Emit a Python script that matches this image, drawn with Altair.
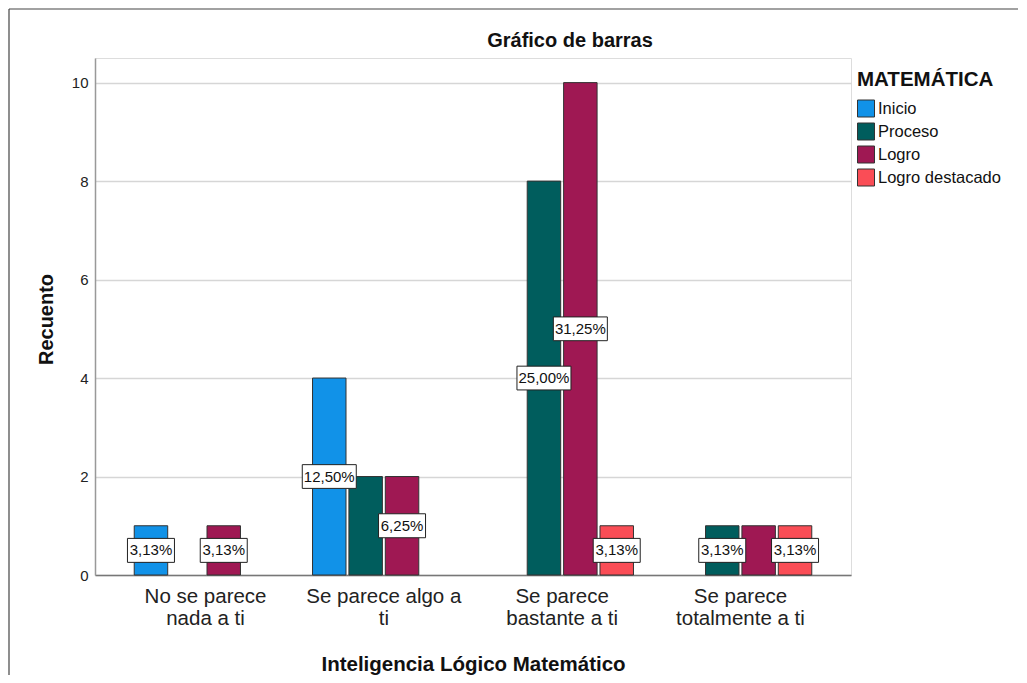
import math
import altair as alt
import pandas as pd

# ---- data ----
categories = ["No se parece\nnada a ti", "Se parece algo a\nti", "Se parece\nbastante a ti", "Se parece\ntotalmente a ti"]
series = ["Inicio", "Proceso", "Logro", "Logro destacado"]
colors = ["#1192e8", "#005d5d", "#9f1853", "#fa4d56"]

inicio = [1, 4, 0, 0]
proceso = [0, 2, 8, 1]
logro = [1, 2, 10, 1]
destacado = [0, 0, 1, 1]

label_inicio = [True, True, False, False]
label_proceso = [False, False, True, True]
label_logro = [True, True, True, False]
label_destacado = [False, False, True, True]

y_ticks = [0, 2, 4, 6, 8, 10]
chart_title = "Gráfico de barras"

FONT = "Liberation Sans"

values = [inicio, proceso, logro, destacado]
shows = [label_inicio, label_proceso, label_logro, label_destacado]
total = sum(sum(v) for v in values)


def pct(v):
    x = math.floor(v * 10000 / total + 0.5) / 100
    return f"{x:.2f}".replace(".", ",") + "%"


rows = []
for s, vals, sh in zip(series, values, shows):
    for c, v, show in zip(categories, vals, sh):
        if v > 0:
            rows.append({"cat": c, "serie": s, "count": v, "show": bool(show), "label": pct(v)})
df = pd.DataFrame(rows)

x_enc = alt.X(
    "cat:N",
    sort=categories,
    scale=alt.Scale(domain=categories, paddingInner=0.2, paddingOuter=0.22),
    axis=alt.Axis(
        title="Inteligencia Lógico Matemático",
        labelAngle=0,
        ticks=False,
        labelPadding=11,
        labelFontSize=20.5,
        labelLineHeight=22.5,
        labelFont=FONT,
        labelColor="#222222",
        labelExpr="split(datum.label, '\\n')",
        titleFont=FONT,
        titleFontSize=20.5,
        titleFontWeight="bold",
        titleColor="#111111",
        titleY=95,
        titleBaseline="alphabetic",
        domainColor="#777777",
        domainWidth=1.5,
        grid=False,
    ),
)
xoff_enc = alt.XOffset("serie:N", sort=series, scale=alt.Scale(domain=series, paddingInner=0.08))
y_scale = alt.Scale(domain=[0, 10.5], nice=False)

base = alt.Chart(df)

bars = base.mark_bar(stroke="#333333", strokeWidth=1).encode(
    x=x_enc,
    xOffset=xoff_enc,
    y=alt.Y(
        "count:Q",
        scale=y_scale,
        axis=alt.Axis(
            title="Recuento",
            values=y_ticks,
            format="d",
            ticks=False,
            labelPadding=7,
            labelFontSize=15,
            labelFont=FONT,
            labelColor="#222222",
            domainColor="#999999",
            domainWidth=1.5,
            gridColor="#d6d6d6",
            gridWidth=1.5,
            titleFont=FONT,
            titleFontSize=20,
            titleFontWeight="bold",
            titleColor="#111111",
            titleAngle=-90,
            titleX=-43,
            titleY=261,
            titleAlign="center",
            titleBaseline="alphabetic",
        ),
    ),
    color=alt.Color(
        "serie:N",
        sort=series,
        scale=alt.Scale(domain=series, range=colors),
        legend=alt.Legend(
            title="MATEMÁTICA",
            orient="none",
            legendX=762,
            legendY=12,
            padding=0,
            symbolType="square",
            symbolSize=289,
            symbolStrokeColor="#333333",
            symbolStrokeWidth=1,
            titleFont=FONT,
            titleFontSize=20.5,
            titleFontWeight="bold",
            titleColor="#111111",
            titlePadding=9,
            labelFont=FONT,
            labelFontSize=16.5,
            labelColor="#111111",
            labelOffset=3,
            rowPadding=1,
        ),
    ),
)

lab = base.transform_filter("datum.show").transform_calculate(
    mid="datum.count / 2", n="length(datum.label)"
)

box5 = lab.transform_filter("datum.n == 5").mark_point(
    shape="M-1,-0.51L1,-0.51L1,0.51L-1,0.51Z", size=47 * 47, filled=True,
    fill="white", stroke="#222222", strokeWidth=1, opacity=1,
).encode(x=alt.X("cat:N", sort=categories), xOffset=alt.XOffset("serie:N", sort=series), y=alt.Y("mid:Q", scale=y_scale))

box6 = lab.transform_filter("datum.n == 6").mark_point(
    shape="M-1,-0.44L1,-0.44L1,0.44L-1,0.44Z", size=54 * 54, filled=True,
    fill="white", stroke="#222222", strokeWidth=1, opacity=1,
).encode(x=alt.X("cat:N", sort=categories), xOffset=alt.XOffset("serie:N", sort=series), y=alt.Y("mid:Q", scale=y_scale))

texts = lab.mark_text(font=FONT, fontSize=15, color="#111111", baseline="middle", align="center").encode(
    x=alt.X("cat:N", sort=categories), xOffset=alt.XOffset("serie:N", sort=series),
    y=alt.Y("mid:Q", scale=y_scale), text="label:N",
)

deco_df = pd.DataFrame({"k": [0]})
frame_top = alt.Chart(deco_df).mark_rule(color="#444444", strokeWidth=1.2).encode(
    x=alt.value(-86), x2=alt.value(1100), y=alt.value(-49)
)
frame_left = alt.Chart(deco_df).mark_rule(color="#444444", strokeWidth=1.2).encode(
    x=alt.value(-86), y=alt.value(-49), y2=alt.value(800)
)
title_text = alt.Chart(deco_df).mark_text(
    font=FONT, fontSize=20, fontWeight="bold", color="#111111",
    align="center", baseline="alphabetic",
).encode(x=alt.value(475), y=alt.value(-11), text=alt.value(chart_title))

chart = (
    alt.layer(bars, box5, box6, texts, frame_top, frame_left, title_text)
    .properties(
        width=756,
        height=517,
        autosize=alt.AutoSizeParams(type="none"),
        padding={"left": 87, "top": 50, "right": 167, "bottom": 100},
    )
    .configure_view(stroke="transparent")
    .configure(background="white")
)

chart.save("out.html", embed_options={"renderer": "svg", "actions": False})
